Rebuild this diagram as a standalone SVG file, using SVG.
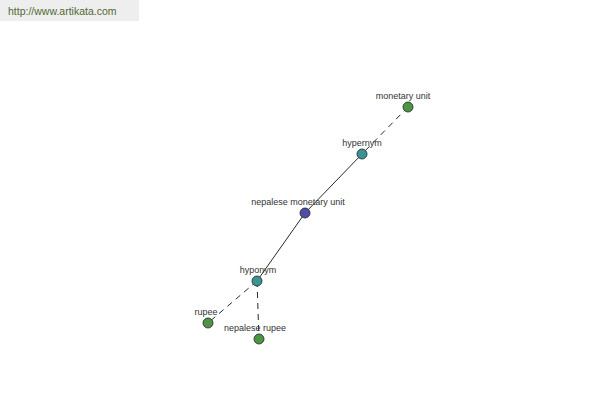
<svg xmlns="http://www.w3.org/2000/svg" width="600" height="400" viewBox="0 0 600 400">
<style>
.lbl{font-family:"Liberation Sans",Arial,sans-serif;font-size:9px;fill:#333;text-anchor:middle}
.node{stroke:#222;stroke-width:0.8}
.g{fill:#4c9544}
.t{fill:#3a9494}
.b{fill:#4e4ea6}
.solid{stroke:#111;stroke-width:0.9;fill:none}
.dash{stroke:#111;stroke-width:0.9;fill:none;stroke-dasharray:6,5}
</style>
<rect width="600" height="400" fill="#fff"/>
<rect x="0" y="0" width="139" height="21" fill="#eeeeee"/>
<text x="8" y="15" font-family="Liberation Sans,Arial,sans-serif" font-size="10.5" fill="#4f6a30">http://www.artikata.com</text>
<g id="connectors">
<line class="dash" x1="408" y1="107" x2="362" y2="154"/>
<line class="solid" x1="362" y1="154" x2="305" y2="213"/>
<line class="solid" x1="305" y1="213" x2="257" y2="281"/>
<line class="dash" x1="257" y1="281" x2="208" y2="323"/>
<line class="dash" x1="257" y1="281" x2="259" y2="339"/>
</g>
<g id="monetary-unit"><circle class="node g" cx="408" cy="107" r="5"/><text class="lbl" x="403" y="99">monetary unit</text></g>
<g id="hypernym"><circle class="node t" cx="362" cy="154" r="5"/><text class="lbl" x="362" y="146">hypernym</text></g>
<g id="nepalese-monetary-unit"><circle class="node b" cx="305" cy="213" r="5"/><text class="lbl" x="298" y="205">nepalese monetary unit</text></g>
<g id="hyponym"><circle class="node t" cx="257" cy="281" r="5"/><text class="lbl" x="258" y="273">hyponym</text></g>
<g id="rupee"><circle class="node g" cx="208" cy="323" r="5"/><text class="lbl" x="206" y="315">rupee</text></g>
<g id="nepalese-rupee"><circle class="node g" cx="259" cy="339" r="5"/><text class="lbl" x="255" y="331">nepalese rupee</text></g>
</svg>
